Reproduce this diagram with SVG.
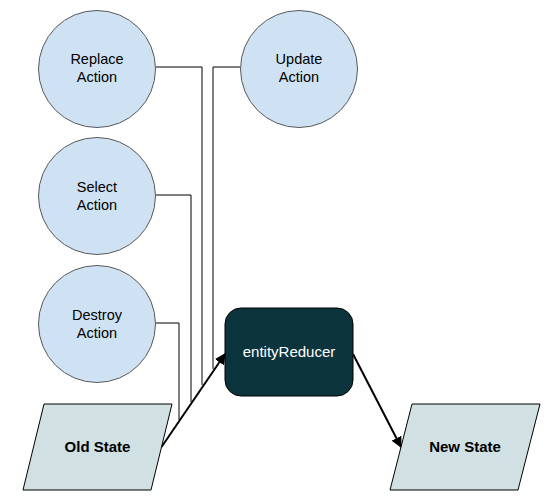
<svg xmlns="http://www.w3.org/2000/svg" width="549" height="502" viewBox="0 0 549 502">
<defs>
<style>
.act{fill:#cfe2f3;stroke:#595959;stroke-width:1}
.st{fill:#d0e0e3;stroke:#000;stroke-width:1}
.t{font-family:"Liberation Sans",Arial,sans-serif;font-size:14.5px;fill:#000;text-anchor:middle}
.b{font-weight:bold;font-size:15px}
.w{fill:#fff;font-size:15px}
.ln{fill:none;stroke:#000;stroke-width:1}
.ar{fill:none;stroke:#000;stroke-width:2;marker-end:url(#ah)}
</style>
<marker id="ah" viewBox="0 0 10 10" refX="9" refY="5" markerWidth="5.5" markerHeight="5.5" orient="auto" markerUnits="strokeWidth">
<path d="M0,0 L10,5 L0,10 z" fill="#000"/>
</marker>
</defs>
<rect width="549" height="502" fill="#fff"/>
<g id="connectors">
<polyline class="ln" points="156,67 202,67 202,385"/>
<polyline class="ln" points="240,67 213,67 213,369"/>
<polyline class="ln" points="156,195 191,195 191,402"/>
<polyline class="ln" points="156,323 179,323 179,420"/>
<line class="ar" x1="161.5" y1="447" x2="225" y2="354"/>
<line class="ar" x1="353" y1="354" x2="401" y2="447"/>
</g>
<g id="replace">
<circle class="act" cx="97" cy="69" r="58.5"/>
<text class="t" x="97" y="64">Replace</text>
<text class="t" x="97" y="82">Action</text>
</g>
<g id="update">
<circle class="act" cx="299" cy="69" r="58.5"/>
<text class="t" x="299" y="64">Update</text>
<text class="t" x="299" y="82">Action</text>
</g>
<g id="select">
<circle class="act" cx="97" cy="196" r="58.5"/>
<text class="t" x="97" y="192">Select</text>
<text class="t" x="97" y="210">Action</text>
</g>
<g id="destroy">
<circle class="act" cx="97" cy="324" r="58.5"/>
<text class="t" x="97" y="320">Destroy</text>
<text class="t" x="97" y="338">Action</text>
</g>
<g id="reducer">
<rect x="225" y="308" width="128" height="88" rx="16" fill="#0c343d" stroke="#000" stroke-width="1"/>
<text class="t w" x="289" y="357">entityReducer</text>
</g>
<g id="oldstate">
<polygon class="st" points="44,404 172,404 151,490 23,490"/>
<text class="t b" x="97.5" y="452">Old State</text>
</g>
<g id="newstate">
<polygon class="st" points="412,404 540,404 518,490 390,490"/>
<text class="t b" x="465" y="452">New State</text>
</g>
</svg>
